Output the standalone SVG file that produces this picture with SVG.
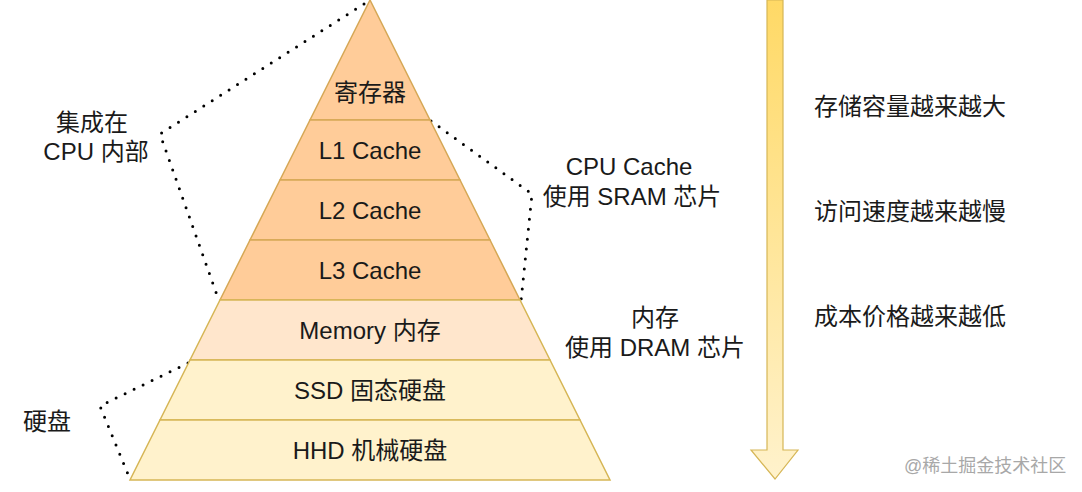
<svg xmlns="http://www.w3.org/2000/svg" width="1082" height="492" viewBox="0 0 1082 492">
  <defs>
    <linearGradient id="arrowGrad" x1="0" y1="0" x2="0" y2="1">
      <stop offset="0" stop-color="#FFD966"/>
      <stop offset="1" stop-color="#FFF2CC"/>
    </linearGradient>
    <style>
      text { font-family: "Liberation Sans", Arial, "Noto Sans CJK SC", sans-serif; font-size: 24px; fill: #1a1a1a; text-anchor: middle; dominant-baseline: central; }
      .cpu { fill: #FFCC99; stroke: #D6A856; stroke-width: 1.5; }
      .mem { fill: #FFE6CC; stroke: #D6B656; stroke-width: 1.5; }
      .disk { fill: #FFF2CC; stroke: #D6B656; stroke-width: 1.5; }
      .dot { fill: none; stroke: #000; stroke-width: 3; stroke-linecap: round; stroke-dasharray: 0 10; }
      .wm { font-size: 18px; fill: #a8a8a8; text-anchor: start; }
    </style>
  </defs>
  <rect width="1082" height="492" fill="#ffffff"/>

  <g id="connectors">
    <polyline class="dot" points="364,4 160,134 218,298"/>
    <polyline class="dot" points="431,121 532,194 521,301"/>
    <polyline class="dot" points="188,363 100,406 130,479"/>
  </g>

  <g id="node-register">
    <polygon class="cpu" points="370,0 430,120 310,120"/>
    <text x="370" y="92">寄存器</text>
  </g>
  <g id="node-l1">
    <polygon class="cpu" points="310,120 430,120 460,180 280,180"/>
    <text x="370" y="150">L1 Cache</text>
  </g>
  <g id="node-l2">
    <polygon class="cpu" points="280,180 460,180 490,240 250,240"/>
    <text x="370" y="210">L2 Cache</text>
  </g>
  <g id="node-l3">
    <polygon class="cpu" points="250,240 490,240 520,300 220,300"/>
    <text x="370" y="270">L3 Cache</text>
  </g>
  <g id="node-memory">
    <polygon class="mem" points="220,300 520,300 550,360 190,360"/>
    <text x="370" y="330">Memory 内存</text>
  </g>
  <g id="node-ssd">
    <polygon class="disk" points="190,360 550,360 580,420 160,420"/>
    <text x="370" y="390">SSD 固态硬盘</text>
  </g>
  <g id="node-hhd">
    <polygon class="disk" points="160,420 580,420 610,480 130,480"/>
    <text x="370" y="450">HHD 机械硬盘</text>
  </g>

  <g id="label-cpu">
    <text x="92" y="122">集成在</text>
    <text x="96" y="151">CPU 内部</text>
  </g>
  <g id="label-cache">
    <text x="629" y="166">CPU Cache</text>
    <text x="632" y="196">使用 SRAM 芯片</text>
  </g>
  <g id="label-dram">
    <text x="655" y="317">内存</text>
    <text x="655" y="347">使用 DRAM 芯片</text>
  </g>
  <g id="label-disk">
    <text x="47" y="421">硬盘</text>
  </g>

  <g id="arrow">
    <polygon points="767,0 783,0 783,450 798,450 775,479 751,450 767,450" fill="url(#arrowGrad)" stroke="#D6B656" stroke-width="1.2"/>
  </g>

  <g id="label-right">
    <text x="910" y="106">存储容量越来越大</text>
    <text x="910" y="211">访问速度越来越慢</text>
    <text x="910" y="316">成本价格越来越低</text>
  </g>

  <text class="wm" x="904" y="466">@稀土掘金技术社区</text>
</svg>
